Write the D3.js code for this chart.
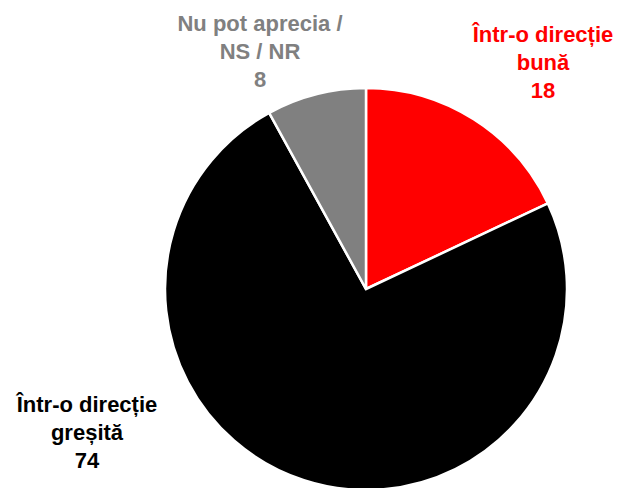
<!DOCTYPE html>
<html>
<head>
<meta charset="utf-8">
<script src="https://cdn.jsdelivr.net/npm/d3@7"></script>
<style>
  body { margin: 0; background: #fff; }
  svg text { font-family: "Liberation Sans", Arial, sans-serif; font-weight: bold; }
</style>
</head>
<body>
<div id="chart"></div>
<script>
// chart data
var categories = ["Într-o direcție bună", "Într-o direcție greșită", "Nu pot aprecia / NS / NR"];
var values = [18, 74, 8];
var colors = ["#ff0000", "#000000", "#808080"];
// label lines for each slice
var labelLines = [
  ["Într-o direcție", "bună"],
  ["Într-o direcție", "greșită"],
  ["Nu pot aprecia /", "NS / NR"]
];

var width = 620, height = 488;
var cx = 366, cy = 289, radius = 201;

var svg = d3.select("#chart").append("svg")
    .attr("width", width)
    .attr("height", height);

var g = svg.append("g")
    .attr("transform", "translate(" + cx + "," + cy + ")");

var pie = d3.pie().sort(null).value(function(d) { return d; });
var arc = d3.arc().innerRadius(0).outerRadius(radius);

var arcs = pie(values);

g.selectAll("path")
    .data(arcs)
  .enter().append("path")
    .attr("d", arc)
    .attr("fill", function(d, i) { return colors[i]; })
    .attr("stroke", "#fff")
    .attr("stroke-width", 2.5)
    .attr("stroke-linejoin", "miter");

// label anchor positions (top line baseline), relative to svg
var labelPos = [[543, 42], [87, 412], [260, 31]];
var lineH = 28;

var labels = svg.selectAll("text.lbl")
    .data(arcs)
  .enter().append("text")
    .attr("class", "lbl")
    .attr("text-anchor", "middle")
    .attr("font-size", "22px")
    .attr("fill", function(d, i) { return colors[i]; })
    .attr("x", function(d, i) { return labelPos[i][0]; })
    .attr("y", function(d, i) { return labelPos[i][1]; });

labels.each(function(d, i) {
  var t = d3.select(this);
  var lines = labelLines[i].concat([String(values[i])]);
  lines.forEach(function(s, k) {
    t.append("tspan")
      .attr("x", labelPos[i][0])
      .attr("y", labelPos[i][1] + k * lineH)
      .text(s);
  });
});
</script>
</body>
</html>
